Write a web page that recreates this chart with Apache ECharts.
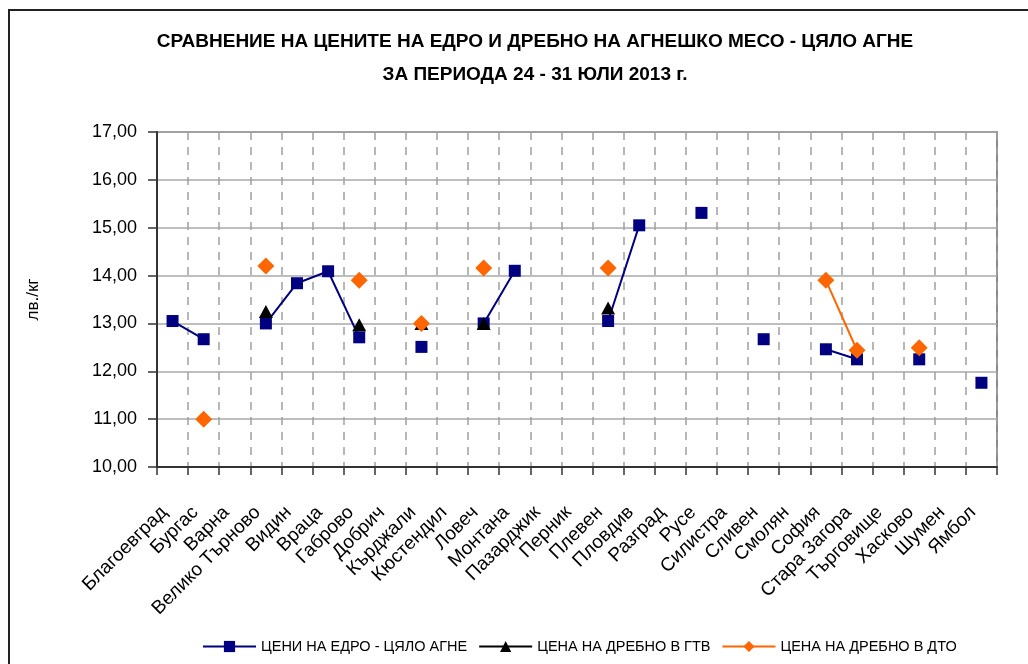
<!DOCTYPE html>
<html>
<head>
<meta charset="utf-8">
<script src="https://cdn.jsdelivr.net/npm/echarts@6/dist/echarts.min.js"></script>
<style>html,body{margin:0;padding:0;background:#fff}#c{width:1028px;height:664px}</style>
</head>
<body>
<div id="c"></div>
<script>
const categories = ['Благоевград','Бургас','Варна','Велико Търново','Видин','Враца','Габрово','Добрич','Кърджали','Кюстендил','Ловеч','Монтана','Пазарджик','Перник','Плевен','Пловдив','Разград','Русе','Силистра','Сливен','Смолян','София','Стара Загора','Търговище','Хасково','Шумен','Ямбол'];
const seriesNames = ['ЦЕНИ НА ЕДРО - ЦЯЛО АГНЕ','ЦЕНА НА ДРЕБНО В ГТВ','ЦЕНА НА ДРЕБНО В ДТО'];
const wholesale = [13.05,12.67,null,13.00,13.84,14.09,12.71,null,12.51,null,13.00,14.10,null,null,13.05,15.05,null,15.31,null,12.67,null,12.46,12.25,null,12.25,null,11.76];
const retailGTV = [null,null,null,13.25,null,null,12.97,null,13.00,null,13.00,null,null,null,13.32,null,null,null,null,null,null,null,null,null,null,null,null];
const retailDTO = [null,11.00,null,14.20,null,null,13.90,null,13.00,null,14.16,null,null,null,14.16,null,null,null,null,null,null,13.90,12.44,null,12.49,null,null];
const yTicks = {min:10, max:17, interval:1};
const titleText = 'СРАВНЕНИЕ НА ЦЕНИТЕ НА ЕДРО И ДРЕБНО НА АГНЕШКО МЕСО - ЦЯЛО АГНЕ\nЗА ПЕРИОДА 24 - 31 ЮЛИ 2013 г.';
const yName = 'лв./кг';

const FONT = '"Liberation Sans", Arial, sans-serif';
const chart = echarts.init(document.getElementById('c'), null, {renderer:'canvas'});
chart.setOption({
  animation:false,
  backgroundColor:'#fff',
  textStyle:{fontFamily:FONT},
  graphic:[{type:'rect', shape:{x:9,y:10,width:1030,height:670}, style:{fill:'none', stroke:'#222', lineWidth:2}, silent:true}],
  title:{text:titleText, left:530, top:20, textAlign:'center',
    textStyle:{fontFamily:FONT, fontWeight:'bold', fontSize:19, lineHeight:33, color:'#000'}},
  legend:{left:197, top:634, itemWidth:53, itemHeight:14, itemGap:11,
    textStyle:{fontFamily:FONT, fontSize:14.5, color:'#000'},
    data:seriesNames},
  grid:{left:157, right:31, top:132, bottom:197, show:true, borderColor:'#8a8a8a', borderWidth:2, containLabel:false},
  xAxis:{type:'category', data:categories, boundaryGap:true,
    axisLine:{lineStyle:{color:'#333', width:2}},
    axisTick:{show:true, interval:0, length:8, lineStyle:{color:'#333', width:1.5}},
    axisLabel:{interval:0, rotate:45, margin:34, fontSize:19, color:'#000', fontFamily:FONT, padding:[0,12,0,0]},
    splitLine:{show:true, interval:0, lineStyle:{color:'#a0a0a0', width:1.5, type:[8,7]}}},
  yAxis:{type:'value', min:yTicks.min, max:yTicks.max, interval:yTicks.interval,
    name:yName, nameLocation:'middle', nameGap:115, nameRotate:90,
    nameTextStyle:{fontSize:17, color:'#000', fontFamily:FONT},
    axisLine:{show:true, lineStyle:{color:'#333', width:2}},
    axisTick:{show:true, length:9, lineStyle:{color:'#333', width:1.5}},
    axisLabel:{fontSize:18, color:'#000', margin:20, fontFamily:FONT, formatter:v=>v.toFixed(2).replace('.',',')},
    splitLine:{show:true, lineStyle:{color:'#a8a8a8', width:1.5}}},
  series:[
    {name:seriesNames[0], type:'line', data:wholesale, symbol:'rect', symbolSize:12, connectNulls:false,
      itemStyle:{color:'#000080'}, lineStyle:{color:'#000080', width:2}},
    {name:seriesNames[1], type:'line', data:retailGTV, symbol:'triangle', symbolSize:[14,13], connectNulls:false,
      itemStyle:{color:'#000'}, lineStyle:{color:'#000', width:2}},
    {name:seriesNames[2], type:'line', data:retailDTO, symbol:'diamond', symbolSize:17, connectNulls:false,
      itemStyle:{color:'#FF6600'}, lineStyle:{color:'#FF6600', width:2}}
  ]
});
</script>
</body>
</html>
